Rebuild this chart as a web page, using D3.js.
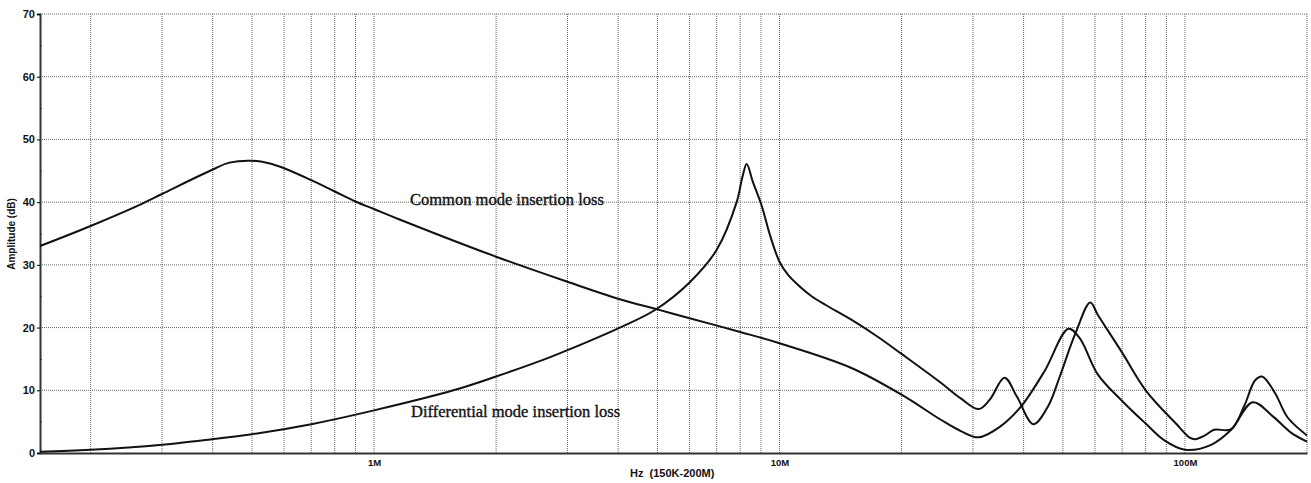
<!DOCTYPE html>
<html lang="en">
	<head>
		<meta charset="utf-8">
		<title>Insertion loss</title>
		<style>
			body { margin: 0; background: #fff; }
			#graph { display: block; }
			#graph .grid line { stroke: #666; stroke-width: 1; stroke-dasharray: 1,1; }
			#graph .lbl { font-family: "Liberation Sans", Arial, sans-serif; font-weight: bold; fill: #111; }
			#graph .note { font-family: "Liberation Serif", "Times New Roman", serif; font-size: 16.5px; fill: #111; stroke: #111; stroke-width: 0.35; }
			#graph path.curve { fill: none; stroke: #111; stroke-width: 2; }
		</style>
	</head>
	<body>
		<svg id="graph" width="1311" height="483"></svg>

		<script src="https://d3js.org/d3.v7.min.js"></script>
		<script>
			"use strict";

			// frequency in MHz, amplitude in dB
			var cmFreq = [0.15, 0.2, 0.265, 0.3, 0.4, 0.44, 0.5, 0.55, 0.6, 0.7, 0.8, 0.9, 1.0, 1.16, 2.0, 3.0, 4.0, 5.0, 6.0, 8.0, 10, 15, 20, 25, 28, 31, 35, 39.3, 45, 51.6, 55, 61, 70, 80, 89, 100, 116, 130, 147, 165, 183, 200];
			var cmAmp  = [33, 36.2, 39.6, 41.3, 45.2, 46.3, 46.6, 46.2, 45.4, 43.5, 41.7, 40.1, 38.9, 37.2, 31.3, 27.3, 24.6, 22.9, 21.5, 19.3, 17.5, 13.6, 9.3, 5.3, 3.5, 2.5, 4.2, 7.3, 13, 19.8, 18.3, 12.5, 8.3, 4.7, 2, 0.5, 1.3, 3.7, 8.1, 5.8, 3.2, 1.8];

			var dmFreq = [0.15, 0.2, 0.3, 0.375, 0.5, 0.7, 1.0, 1.57, 2.0, 2.6, 3.0, 4.04, 4.93, 6.0, 7.0, 7.84, 8.1, 8.3, 8.6, 9.03, 9.5, 10, 10.5, 11.2, 12, 13, 15, 17.5, 20, 25, 28, 31, 33, 35.9, 38.5, 42.3, 46, 49, 53.7, 58.4, 61, 70, 80, 95, 103, 106, 112, 118, 130, 140, 149, 155, 167, 179, 200];
			var dmAmp  = [0.2, 0.5, 1.3, 2.0, 3.0, 4.6, 6.8, 10, 12.2, 14.8, 16.4, 20, 22.8, 27.2, 32.4, 40, 44, 46.1, 43.2, 39.5, 34.5, 30.5, 28.4, 26.6, 25, 23.6, 21.3, 18.5, 15.8, 11.2, 8.7, 7, 8.5, 12, 9, 4.6, 7.5, 12, 19.1, 24, 22, 16, 10, 4.7, 2.4, 2.2, 2.8, 3.7, 3.8, 7.5, 11.6, 12.2, 9.5, 5.7, 2.8];

			var yTicks = [0, 10, 20, 30, 40, 50, 60, 70];
			var xLabelTicks = [1, 10, 100];
			var xLabelText = ["1M", "10M", "100M"];

			var svg = d3.select("#graph");
			var padL = 40, padR = 1307, padT = 14, padB = 453;

			var x = d3.scaleLog().domain([0.15, 200]).range([padL, padR]);
			var y = d3.scaleLinear().domain([0, 70]).range([padB, padT]);

			// vertical grid at 2..9 of every decade
			var vgrid = [];
			[0.1, 1, 10, 100].forEach(function(dec){
				for(var k = 1; k <= 9; k++) {
					var f = dec * k;
					if(f > 0.15 && f < 200) vgrid.push(f);
				}
			});

			var grid = svg.append("g").attr("class", "grid");
			grid.selectAll("line.v").data(vgrid).enter().append("line")
				.attr("class", "v")
				.attr("x1", function(d){ return x(d); })
				.attr("x2", function(d){ return x(d); })
				.attr("y1", padT).attr("y2", padB);
			grid.selectAll("line.h").data(yTicks.slice(1)).enter().append("line")
				.attr("class", "h")
				.attr("x1", padL).attr("x2", padR)
				.attr("y1", function(d){ return y(d); })
				.attr("y2", function(d){ return y(d); });
			grid.append("line").attr("x1", padR).attr("x2", padR).attr("y1", padT).attr("y2", padB);

			// axes
			var yAxis = d3.axisLeft(y).tickValues(yTicks).tickSize(3).tickPadding(2);
			var gy = svg.append("g").attr("transform", "translate(" + padL + ",0)").call(yAxis);
			gy.attr("font-family", null).attr("font-size", null);
			gy.select(".domain").attr("stroke", "#333").attr("stroke-width", 2);
			gy.selectAll("text").attr("class", "lbl").style("font-size", "11px");

			var yMinor = d3.axisRight(y).tickValues([5, 15, 25, 35, 45, 55, 65]).tickSize(2).tickFormat("");
			var gm = svg.append("g").attr("transform", "translate(" + padL + ",0)").call(yMinor);
			gm.select(".domain").remove();
			gm.selectAll("line").attr("stroke", "#333");

			var xAxis = d3.axisBottom(x).tickValues(xLabelTicks).tickSize(0).tickPadding(6)
				.tickFormat(function(d, i){ return xLabelText[i]; });
			var gx = svg.append("g").attr("transform", "translate(0," + padB + ")").call(xAxis);
			gx.attr("font-family", null).attr("font-size", null);
			gx.select(".domain").attr("stroke", "#333").attr("stroke-width", 2);
			gx.selectAll("text").attr("class", "lbl").style("font-size", "9.5px");

			// curves
			var line = d3.line()
				.x(function(d){ return x(d[0]); })
				.y(function(d){ return y(d[1]); })
				.curve(d3.curveCatmullRom.alpha(0.5));

			svg.append("path").attr("class", "curve").attr("d", line(d3.zip(cmFreq, cmAmp)));
			svg.append("path").attr("class", "curve").attr("d", line(d3.zip(dmFreq, dmAmp)));

			// labels
			svg.append("text").attr("class", "note").attr("x", 410).attr("y", 205).text("Common mode insertion loss");
			svg.append("text").attr("class", "note").attr("x", 411).attr("y", 417).text("Differential mode insertion loss");

			svg.append("text").attr("class", "lbl").style("font-size", "11px").style("white-space", "pre")
				.attr("x", 630).attr("y", 477).text("Hz  (150K-200M)");
			svg.append("text").attr("class", "lbl").style("font-size", "10px")
				.attr("transform", "translate(15,234) rotate(-90)")
				.attr("text-anchor", "middle").text("Amplitude (dB)");
		</script>
	</body>
</html>
